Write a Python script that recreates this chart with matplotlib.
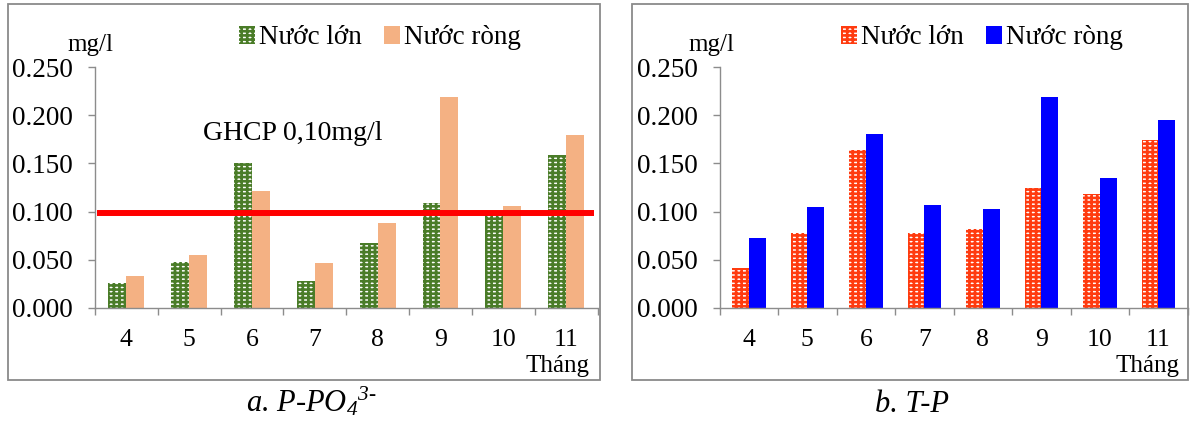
import numpy as np
import matplotlib
matplotlib.use("Agg")
import matplotlib.pyplot as plt
from matplotlib.patches import Rectangle

# Monthly phosphorus concentrations (mg/l) at flood tide / ebb tide
months = ["4", "5", "6", "7", "8", "9", "10", "11"]
po4_flood = [0.026, 0.048, 0.150, 0.028, 0.067, 0.109, 0.098, 0.159]
po4_ebb = [0.033, 0.055, 0.121, 0.047, 0.088, 0.219, 0.106, 0.180]
tp_flood = [0.041, 0.078, 0.164, 0.078, 0.082, 0.124, 0.118, 0.174]
tp_ebb = [0.073, 0.105, 0.181, 0.107, 0.103, 0.219, 0.135, 0.195]
limit_value = 0.098
series_names = ["Nước lớn", "Nước ròng"]
yticks = [0.000, 0.050, 0.100, 0.150, 0.200, 0.250]

plt.rcParams["font.family"] = ["Liberation Serif", "DejaVu Serif"]
plt.rcParams["mathtext.fontset"] = "custom"
plt.rcParams["mathtext.rm"] = "Liberation Serif:italic"
plt.rcParams["mathtext.it"] = "Liberation Serif:italic"
plt.rcParams["hatch.linewidth"] = 1.9

W, H = 1190, 421
fig = plt.figure(figsize=(W / 100, H / 100), dpi=100)

AXIS_GRAY = "#8c8c8c"
FRAME_GRAY = "#8a8a8a"
TICK_FS = 19.5
XTICK_FS = 18.5
LEGEND_FS = 19.5
SMALL_FS = 18
CAPTION_FS = 22


def px_rect(x0, y0, x1, y1):
    """Convert pixel box (top-left origin) to figure fraction [l, b, w, h]."""
    return [x0 / W, 1 - y1 / H, (x1 - x0) / W, (y1 - y0) / H]


def frame(x0, y0, x1, y1):
    l, b, w, h = px_rect(x0, y0, x1, y1)
    fig.patches.append(Rectangle((l, b), w, h, transform=fig.transFigure,
                                 fill=False, edgecolor=FRAME_GRAY, lw=1.3))


def panel(rect, flood, ebb, ebb_color, hatched_color):
    ax = fig.add_axes(rect)
    x = np.arange(len(months))
    bw = 0.286
    b1 = ax.bar(x - bw / 2, flood, bw, facecolor="white", edgecolor=hatched_color,
                hatch="+++-", linewidth=0, label=series_names[0])
    b2 = ax.bar(x + bw / 2, ebb, bw, color=ebb_color, linewidth=0,
                label=series_names[1])
    ax.set_xlim(-0.5, len(months) - 0.5)
    ax.set_ylim(0, 0.25)
    ax.set_yticks(yticks)
    ax.set_yticklabels([f"{v:.3f}" for v in yticks])
    ax.set_xticks(np.arange(len(months) + 1) - 0.5)
    ax.set_xticklabels([])
    ax.set_xticks(x, minor=True)
    ax.set_xticklabels(months, minor=True)
    for s in ("top", "right"):
        ax.spines[s].set_visible(False)
    for s in ("left", "bottom"):
        ax.spines[s].set_color(AXIS_GRAY)
        ax.spines[s].set_linewidth(1.0)
    ax.tick_params(axis="y", which="major", length=5, width=1.0, color=AXIS_GRAY,
                   labelsize=TICK_FS, pad=11)
    ax.tick_params(axis="x", which="major", length=5, width=1.0, color=AXIS_GRAY)
    ax.tick_params(axis="x", which="minor", length=0, labelsize=XTICK_FS, pad=15)
    ax.set_facecolor("none")
    return ax, b1, b2


# Panel a: P-PO4
frame(8, 4, 600, 380)
axa, a1, a2 = panel(px_rect(95, 67.3, 597.5, 307.7), po4_flood, po4_ebb,
                    "#f4b183", "#4a7c28")
axa.hlines(limit_value, -0.47, 7.44, color="#ff0000", lw=4.3, zorder=5)
fig.text(203 / W, 1 - 139.5 / H, "GHCP 0,10mg/l", fontsize=TICK_FS + 0.5,
         ha="left", va="baseline")
fig.text(90 / W, 1 - 50.5 / H, "mg/l", fontsize=SMALL_FS, ha="center", va="baseline")
fig.text(589 / W, 1 - 372 / H, "Tháng", fontsize=SMALL_FS, ha="right", va="baseline")
fig.legend(handles=[a1, a2], loc="center", bbox_to_anchor=(380 / W, 1 - 38 / H),
           ncol=2, frameon=False, fontsize=LEGEND_FS, handlelength=0.6,
           handleheight=0.6, handletextpad=0.15, columnspacing=0.8, borderpad=0)
fig.text(311 / W, 1 - 412 / H, r"a. P-PO$_{4}{}^{3\text{-}}$",
         fontsize=CAPTION_FS, style="italic", ha="center", va="baseline")

# Panel b: T-P
frame(632, 4, 1188, 380)
axb, b1, b2 = panel(px_rect(719.6, 67.3, 1187.7, 307.7), tp_flood, tp_ebb,
                    "#0000ff", "#ff3b0f")
fig.text(711 / W, 1 - 50.5 / H, "mg/l", fontsize=SMALL_FS, ha="center", va="baseline")
fig.text(1180 / W, 1 - 372 / H, "Tháng", fontsize=SMALL_FS, ha="right", va="baseline")
fig.legend(handles=[b1, b2], loc="center", bbox_to_anchor=(982 / W, 1 - 38 / H),
           ncol=2, frameon=False, fontsize=LEGEND_FS, handlelength=0.6,
           handleheight=0.6, handletextpad=0.15, columnspacing=0.8, borderpad=0)
fig.text(912 / W, 1 - 412 / H, "b. T-P", fontsize=CAPTION_FS, style="italic",
         ha="center", va="baseline")

fig.savefig("out.png", dpi=100)
